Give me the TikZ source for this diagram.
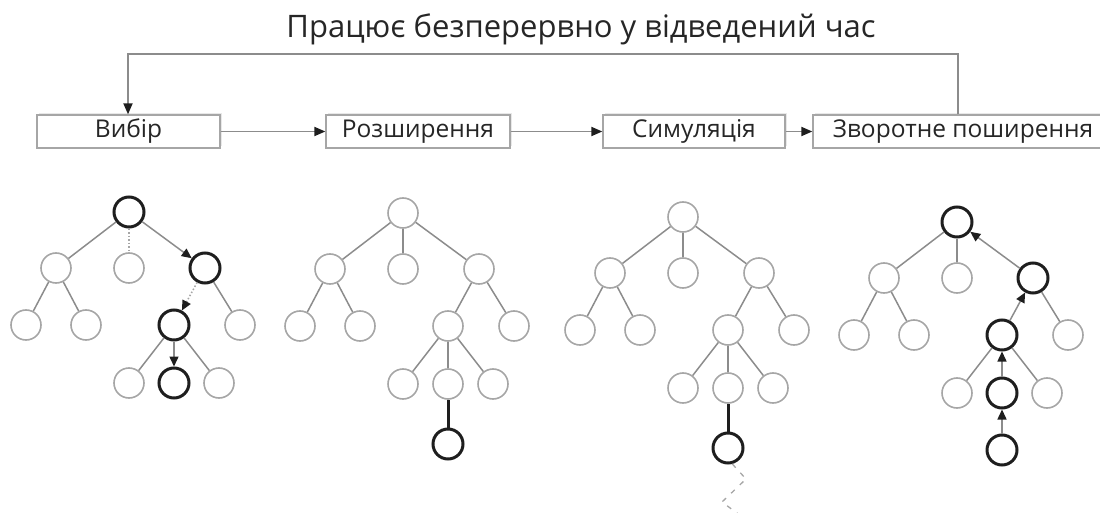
\documentclass[tikz,border=0pt]{standalone}
\usepackage{fontspec}
\setmainfont{Open Sans}
\usetikzlibrary{arrows.meta,shadows}

\definecolor{edgegray}{HTML}{8C8C8C}
\definecolor{nodegray}{HTML}{A6A6A6}
\definecolor{boldblk}{HTML}{1E1E1E}
\definecolor{txt}{HTML}{262626}

\tikzset{
  lite/.style={circle, draw=nodegray, line width=1.6pt, minimum size=30pt, inner sep=0pt, fill=white},
  bold/.style={circle, draw=boldblk, line width=3pt, minimum size=30pt, inner sep=0pt, fill=white},
  edge/.style={draw=edgegray, line width=1.5pt},
  dotedge/.style={draw=nodegray, line width=1.5pt, dotted},
  hot/.style={draw=boldblk, line width=3pt},
  tip/.style={-{Triangle[color=boldblk,length=10pt,width=9pt]}},
  stage/.style={draw=nodegray, line width=1.3pt, fill=white, minimum height=33pt,
    text=txt, font=\fontsize{24.5}{27}\selectfont,
    drop shadow={shadow xshift=1.5pt, shadow yshift=2pt, opacity=0.18}},
  flow/.style={draw=edgegray, line width=1.8pt, -{Triangle[color=boldblk,length=11pt,width=9pt]}},
}

% Places the eleven shared nodes of a search tree; #2..#5 give the
% styles of the root, the right child, its first child and the middle leaf.
\newcommand{\treenodes}[5]{%
  \node[#2]   (#1-r)   at (0,0)     {};
  \node[lite] (#1-a)   at (-73,56)  {};
  \node[lite] (#1-b)   at (0,56)    {};
  \node[#3]   (#1-c)   at (76,56)   {};
  \node[lite] (#1-aa)  at (-103,113){};
  \node[lite] (#1-ab)  at (-43,113) {};
  \node[#4]   (#1-ca)  at (45,113)  {};
  \node[lite] (#1-cb)  at (111,113) {};
  \node[lite] (#1-caa) at (0,171)   {};
  \node[#5]   (#1-cab) at (45,171)  {};
  \node[lite] (#1-cac) at (90,171)  {};
}

\begin{document}
\begin{tikzpicture}[x=1pt,y=-1pt]
\useasboundingbox (0,0) rectangle (1100,513);

% title
\node[text=txt, font=\fontsize{31}{34}\selectfont] (title) at (581,29) {Працює безперервно у відведений час};

% the four stages
\node[stage, minimum width=183pt] (sel) at (128.5,131.5) {Вибір};
\node[stage, minimum width=184pt] (exp) at (418,131.5) {Розширення};
\node[stage, minimum width=182pt] (sim) at (694,131.5) {Симуляція};
\node[stage, minimum width=300pt] (bp)  at (963,131.5) {Зворотне поширення};

\draw[flow] (sel) -- (exp);
\draw[flow] (exp) -- (sim);
\draw[flow] (sim) -- (bp);
\coordinate (loopR) at (958,54);
\coordinate (loopL) at (128,54);
\draw[flow] (bp.north -| loopR) -- (loopR) -- (loopL) -- (sel.north -| loopL);

% selection tree
\begin{scope}[shift={(129,212)}]
  \treenodes{s}{bold}{bold}{bold}{bold}
  \draw[edge] (s-r) -- (s-a);
  \draw[dotedge] (s-r) -- (s-b);
  \draw[edge,tip] (s-r) -- (s-c);
  \draw[edge] (s-a) -- (s-aa);
  \draw[edge] (s-a) -- (s-ab);
  \draw[dotedge,tip] (s-c) -- (s-ca);
  \draw[edge] (s-c) -- (s-cb);
  \draw[edge] (s-ca) -- (s-caa);
  \draw[edge,tip] (s-ca) -- (s-cab);
  \draw[edge] (s-ca) -- (s-cac);
\end{scope}

% expansion tree
\begin{scope}[shift={(403,213)}]
  \treenodes{e}{lite}{lite}{lite}{lite}
  \node[bold] (e-d) at (45,231) {};
  \draw[edge] (e-r) -- (e-a);
  \draw[edge] (e-r) -- (e-b);
  \draw[edge] (e-r) -- (e-c);
  \draw[edge] (e-a) -- (e-aa);
  \draw[edge] (e-a) -- (e-ab);
  \draw[edge] (e-c) -- (e-ca);
  \draw[edge] (e-c) -- (e-cb);
  \draw[edge] (e-ca) -- (e-caa);
  \draw[edge] (e-ca) -- (e-cab);
  \draw[edge] (e-ca) -- (e-cac);
  \draw[hot] (e-cab) -- (e-d);
\end{scope}

% simulation tree
\begin{scope}[shift={(683,217)}]
  \treenodes{m}{lite}{lite}{lite}{lite}
  \node[bold] (m-d) at (45,231) {};
  \draw[edge] (m-r) -- (m-a);
  \draw[edge] (m-r) -- (m-b);
  \draw[edge] (m-r) -- (m-c);
  \draw[edge] (m-a) -- (m-aa);
  \draw[edge] (m-a) -- (m-ab);
  \draw[edge] (m-c) -- (m-ca);
  \draw[edge] (m-c) -- (m-cb);
  \draw[edge] (m-ca) -- (m-caa);
  \draw[edge] (m-ca) -- (m-cab);
  \draw[edge] (m-ca) -- (m-cac);
  \draw[hot] (m-cab) -- (m-d);
  % random playout
  \coordinate (m-p1) at (63,262);
  \coordinate (m-p2) at (39,285);
  \coordinate (m-p3) at (62,302);
  \draw[draw=nodegray, line width=1.3pt, dash pattern=on 5pt off 7pt]
    (m-d.-75) -- (m-p1) -- (m-p2) -- (m-p3);
\end{scope}

% backpropagation tree
\begin{scope}[shift={(957,222)}]
  \treenodes{b}{bold}{bold}{bold}{bold}
  \node[bold] (b-d) at (45,228) {};
  \draw[edge] (b-r) -- (b-a);
  \draw[edge] (b-r) -- (b-b);
  \draw[edge,tip] (b-c) -- (b-r);
  \draw[edge] (b-a) -- (b-aa);
  \draw[edge] (b-a) -- (b-ab);
  \draw[edge,tip] (b-ca) -- (b-c);
  \draw[edge] (b-c) -- (b-cb);
  \draw[edge] (b-ca) -- (b-caa);
  \draw[edge,tip] (b-cab) -- (b-ca);
  \draw[edge] (b-ca) -- (b-cac);
  \draw[edge,tip] (b-d) -- (b-cab);
\end{scope}
\end{tikzpicture}
\end{document}
